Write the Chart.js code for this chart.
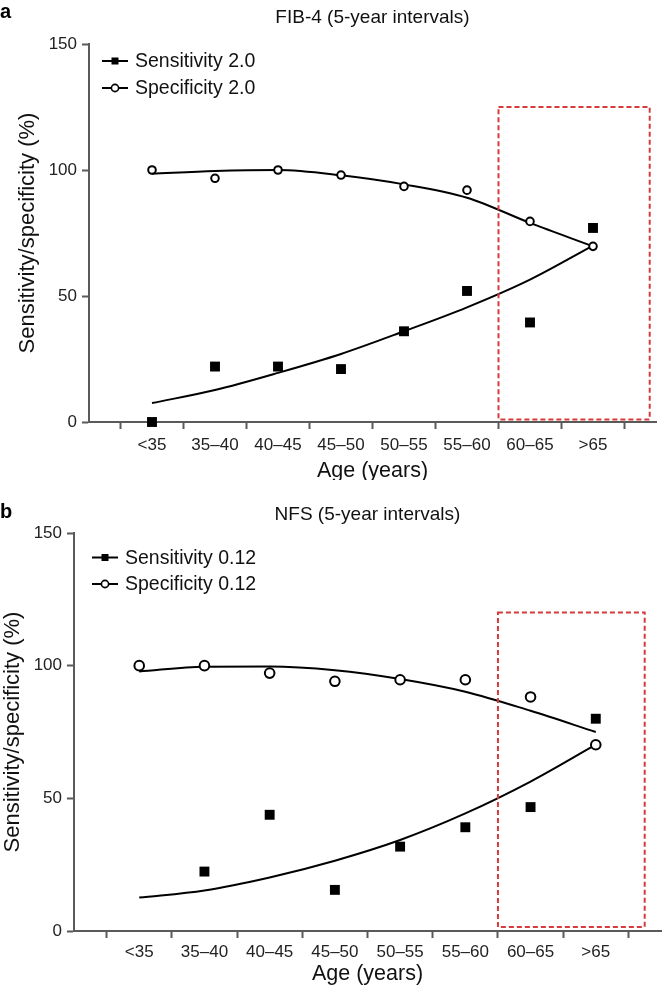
<!DOCTYPE html>
<html>
<head>
<meta charset="utf-8">
<script src="https://cdn.jsdelivr.net/npm/chart.js@4.4.1/dist/chart.umd.min.js"></script>
<style>
  body { margin: 0; background: #fff; }
  canvas { display: block; }
</style>
</head>
<body>
<canvas id="chartA" width="668" height="480"></canvas>
<canvas id="chartB" width="668" height="511"></canvas>
<script>
// Categorías del eje x (intervalos de 5 años)
const ageGroups = ['<35', '35–40', '40–45', '45–50', '50–55', '55–60', '60–65', '>65'];
const yTicks = [0, 50, 100, 150];

// Panel a: FIB-4
const fibSensitivity = [0, 22, 22, 21, 36, 52, 39.5, 77];
const fibSpecificity = [100, 96.7, 100, 98, 93.5, 92, 79.6, 69.7];
const fibSensTrend = [7.5, 12.7, 19.5, 27, 36, 45.5, 56.5, 70];
const fibSpecTrend = [98.5, 99.6, 100, 97.9, 94.3, 89, 79, 69.7];
const fibBox = [5.5, 7.9, 1, 125]; // x1, x2, y1, y2 (data units)

// Panel b: NFS
const nfsSensitivity = [null, 22.4, 43.8, 15.5, 31.8, 39.1, 46.7, 80];
const nfsSpecificity = [100, 100, 97.2, 94.1, 94.7, 94.7, 88.2, 70.2];
const nfsSensTrend = [12.6, 15.3, 20.2, 26.5, 34.3, 44.3, 56.3, 70.2];
const nfsSpecTrend = [97.8, 99.6, 99.7, 98.3, 95, 90.2, 83, 75];
const nfsBox = [5.5, 7.75, 1.5, 120];

Chart.defaults.font.family = '"Liberation Sans", Arial, sans-serif';
Chart.defaults.color = '#111';

const AXIS = '#5a5a5a';
const toPoints = arr => arr.map((v, i) => ({ x: i, y: v })).filter(p => p.y !== null);

// Plugin: recuadro rojo, leyenda dentro del gráfico y letra del panel
const panelExtras = {
    id: 'panelExtras',
    afterDatasetsDraw(chart, args, opts) {
        const { ctx, scales: { x, y } } = chart;
        ctx.save();

        const [bx1, bx2, by1, by2] = opts.box;
        const left = x.getPixelForValue(bx1), right = x.getPixelForValue(bx2);
        const top = y.getPixelForValue(by2), bottom = y.getPixelForValue(by1);
        ctx.strokeStyle = '#d63c3c';
        ctx.lineWidth = 2;
        ctx.setLineDash([5, 3]);
        ctx.strokeRect(left, top, right - left, bottom - top);
        ctx.setLineDash([]);

        // leyenda
        ctx.font = '19.5px "Liberation Sans", Arial, sans-serif';
        ctx.textBaseline = 'middle';
        opts.legend.forEach((item, i) => {
            const ly = opts.legendY + i * opts.legendGap;
            const lx = opts.legendX;
            ctx.strokeStyle = '#000';
            ctx.lineWidth = 2;
            ctx.beginPath();
            ctx.moveTo(lx, ly);
            ctx.lineTo(lx + 26, ly);
            ctx.stroke();
            if (item.marker === 'rect') {
                ctx.fillStyle = '#000';
                ctx.fillRect(lx + 9.5, ly - 3.5, 7, 7);
            } else {
                ctx.fillStyle = '#fff';
                ctx.lineWidth = 1.6;
                ctx.beginPath();
                ctx.arc(lx + 13, ly, 3.6, 0, Math.PI * 2);
                ctx.fill();
                ctx.stroke();
            }
            ctx.fillStyle = '#111';
            ctx.fillText(item.label, lx + 33, ly + 1);
        });

        ctx.font = 'bold 20px "Liberation Sans", Arial, sans-serif';
        ctx.textBaseline = 'alphabetic';
        ctx.fillStyle = '#000';
        ctx.fillText(opts.letter, 0, opts.letterY);
        ctx.restore();
    }
};

const createPanel = (canvasId, cfg) => {
    const xTickValues = [];
    for (let v = -0.5; v <= 7.5; v += 0.5) xTickValues.push(v);

    return new Chart(document.getElementById(canvasId), {
        type: 'scatter',
        data: {
            datasets: [
                {
                    label: cfg.sensLabel,
                    data: toPoints(cfg.sens),
                    pointStyle: 'rect',
                    pointRadius: 7,
                    backgroundColor: '#000',
                    borderColor: '#000',
                    borderWidth: 0,
                    clip: false,
                },
                {
                    label: cfg.specLabel,
                    data: toPoints(cfg.spec),
                    pointStyle: 'circle',
                    pointRadius: cfg.circleR,
                    backgroundColor: '#fff',
                    borderColor: '#000',
                    borderWidth: 2,
                    clip: false,
                },
                {
                    data: toPoints(cfg.sensTrend),
                    showLine: true,
                    pointRadius: 0,
                    borderColor: '#000',
                    borderWidth: 2,
                    cubicInterpolationMode: 'monotone',
                    clip: false,
                },
                {
                    data: toPoints(cfg.specTrend),
                    showLine: true,
                    pointRadius: 0,
                    borderColor: '#000',
                    borderWidth: 2,
                    cubicInterpolationMode: 'monotone',
                    clip: false,
                },
            ],
        },
        options: {
            responsive: false,
            animation: false,
            layout: { padding: { left: 0, right: cfg.padRight, top: 0, bottom: 0 } },
            plugins: {
                legend: { display: false },
                tooltip: { enabled: false },
                title: {
                    display: true,
                    text: cfg.title,
                    fullSize: false,
                    color: '#111',
                    font: { size: 19, weight: 'normal' },
                    padding: { top: cfg.titleTop, bottom: cfg.titleBottom },
                },
                panelExtras: {
                    box: cfg.box,
                    letter: cfg.letter,
                    letterY: cfg.letterY,
                    legendX: cfg.legendX,
                    legendY: cfg.legendY,
                    legendGap: cfg.legendGap,
                    legend: [
                        { label: cfg.sensLabel, marker: 'rect' },
                        { label: cfg.specLabel, marker: 'circle' },
                    ],
                },
            },
            scales: {
                x: {
                    type: 'linear',
                    min: -1,
                    max: 8,
                    afterBuildTicks: axis => { axis.ticks = xTickValues.map(v => ({ value: v })); },
                    afterFit: axis => { axis.height = cfg.xAxisHeight; },
                    ticks: {
                        autoSkip: false,
                        maxRotation: 0,
                        padding: cfg.xLabelPad,
                        color: '#222',
                        font: { size: 17 },
                        callback: v => (Number.isInteger(v) ? ageGroups[v] : ''),
                    },
                    grid: {
                        drawOnChartArea: false,
                        tickLength: 7,
                        tickWidth: 2,
                        tickColor: ctx => (ctx.tick && Number.isInteger(ctx.tick.value) ? 'rgba(0,0,0,0)' : AXIS),
                    },
                    border: { color: AXIS, width: 2 },
                    title: {
                        display: true,
                        text: 'Age (years)',
                        color: '#111',
                        font: { size: 21.5, lineHeight: 1 },
                        padding: { top: 0, bottom: cfg.xTitlePad },
                    },
                },
                y: {
                    min: 0,
                    max: 150,
                    afterBuildTicks: axis => { axis.ticks = yTicks.map(v => ({ value: v })); },
                    afterFit: axis => { axis.width = cfg.yAxisWidth; },
                    ticks: { padding: 5, color: '#222', font: { size: 17 } },
                    grid: { drawOnChartArea: false, tickLength: 7, tickWidth: 2, tickColor: AXIS },
                    border: { color: AXIS, width: 2 },
                    title: {
                        display: true,
                        text: 'Sensitivity/specificity (%)',
                        color: '#111',
                        font: { size: 22, lineHeight: 1 },
                        padding: { top: cfg.yTitlePad, bottom: 0 },
                    },
                },
            },
        },
        plugins: [panelExtras],
    });
};

createPanel('chartA', {
    title: 'FIB-4 (5-year intervals)',
    letter: 'a', letterY: 18,
    sensLabel: 'Sensitivity 2.0', specLabel: 'Specificity 2.0',
    sens: fibSensitivity, spec: fibSpecificity,
    sensTrend: fibSensTrend, specTrend: fibSpecTrend,
    box: fibBox, circleR: 3.8,
    padRight: 12, titleTop: 6.6, titleBottom: 14.6,
    xAxisHeight: 58, xLabelPad: 6.5, xTitlePad: -1.5,
    yAxisWidth: 89, yTitlePad: 17,
    legendX: 102, legendY: 61, legendGap: 27,
});

createPanel('chartB', {
    title: 'NFS (5-year intervals)',
    letter: 'b', letterY: 38,
    sensLabel: 'Sensitivity 0.12', specLabel: 'Specificity 0.12',
    sens: nfsSensitivity, spec: nfsSpecificity,
    sensTrend: nfsSensTrend, specTrend: nfsSpecTrend,
    box: nfsBox, circleR: 4.8,
    padRight: 1, titleTop: 23, titleBottom: 7.2,
    xAxisHeight: 60, xLabelPad: 3.8, xTitlePad: 6.5,
    yAxisWidth: 74, yTitlePad: 2,
    legendX: 92, legendY: 77.5, legendGap: 26.5,
});
</script>
</body>
</html>
